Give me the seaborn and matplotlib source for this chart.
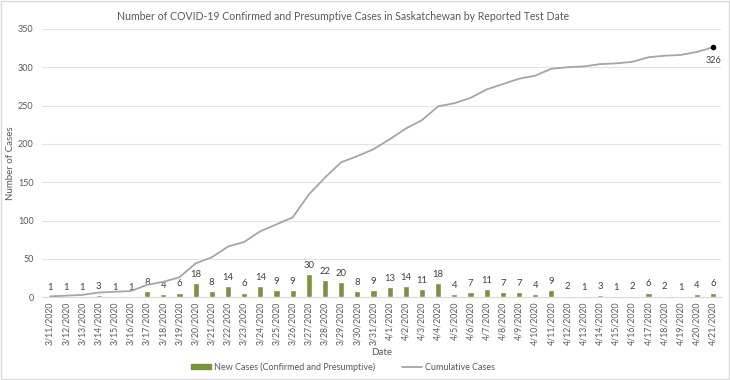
#Saskatchewan COVID-19 cases by reported test date
import numpy as np
import pandas as pd
import matplotlib
matplotlib.use('Agg')
import matplotlib.pyplot as plt
from matplotlib.patches import Patch
from matplotlib.lines import Line2D
import seaborn as sns

#Data
dates = ['3/11/2020', '3/12/2020', '3/13/2020', '3/14/2020', '3/15/2020', '3/16/2020',
         '3/17/2020', '3/18/2020', '3/19/2020', '3/20/2020', '3/21/2020', '3/22/2020',
         '3/23/2020', '3/24/2020', '3/25/2020', '3/26/2020', '3/27/2020', '3/28/2020',
         '3/29/2020', '3/30/2020', '3/31/2020', '4/1/2020', '4/2/2020', '4/3/2020',
         '4/4/2020', '4/5/2020', '4/6/2020', '4/7/2020', '4/8/2020', '4/9/2020',
         '4/10/2020', '4/11/2020', '4/12/2020', '4/13/2020', '4/14/2020', '4/15/2020',
         '4/16/2020', '4/17/2020', '4/18/2020', '4/19/2020', '4/20/2020', '4/21/2020']
new_cases = [1, 1, 1, 3, 1, 1, 8, 4, 6, 18, 8, 14, 6, 14, 9, 9, 30, 22, 20, 8, 9,
             13, 14, 11, 18, 4, 7, 11, 7, 7, 4, 9, 2, 1, 3, 1, 2, 6, 2, 1, 4, 6]
cumulative = [1, 2, 3, 6, 7, 8, 16, 20, 26, 44, 52, 66, 72, 86, 95, 104, 134, 156,
              176, 184, 193, 206, 220, 231, 249, 253, 260, 271, 278, 285, 289, 298,
              300, 301, 304, 305, 307, 313, 315, 316, 320, 326]

df = pd.DataFrame({'Date': dates, 'New': new_cases, 'Cumulative': cumulative})
df['pos'] = np.arange(len(df))

bar_col = '#77933C'
line_col = '#A5A5A5'
text_col = '#595959'

sns.set_style('white')
plt.rcParams['font.family'] = ['Lato', 'DejaVu Sans']

fig = plt.figure(figsize=(7.3, 3.8), dpi=100)
ax = fig.add_axes([0.0575, 0.218, 0.9305, 0.706])

sns.barplot(data=df, x='Date', y='New', color=bar_col, width=0.38,
            saturation=1, ax=ax, zorder=3)
sns.lineplot(data=df, x='pos', y='Cumulative', color=line_col, linewidth=1.3,
             ax=ax, zorder=4)

#bar labels
for p, v in zip(ax.patches, new_cases):
    ax.annotate(str(v), (p.get_x() + p.get_width() / 2, p.get_height()),
                xytext=(0, 3), textcoords='offset points', ha='center', va='bottom',
                fontsize=6.8, color='#404040')

#end point of cumulative line
ax.plot(df['pos'].iloc[-1], cumulative[-1], 'o', color='black', markersize=3, zorder=5)
ax.annotate(str(cumulative[-1]), (df['pos'].iloc[-1], cumulative[-1]),
            xytext=(0, -6), textcoords='offset points', ha='center', va='top',
            fontsize=6.5, color='#404040')

ax.set_xlim(-0.5, len(df) - 0.5)
ax.set_ylim(0, 350)
ax.set_yticks(range(0, 351, 50))
ax.yaxis.grid(True, color='#E3E3E3', linewidth=0.8, zorder=0)
for s in ['top', 'right', 'left']:
    ax.spines[s].set_visible(False)
ax.spines['bottom'].set_color('#D9D9D9')
ax.tick_params(axis='x', rotation=90, labelsize=6.3, colors=text_col, length=0, pad=3)
ax.tick_params(axis='y', labelsize=6.5, colors=text_col, length=0, pad=6)
ax.set_xticks(np.arange(len(df) + 1) - 0.5, minor=True)
ax.tick_params(axis='x', which='minor', length=4, color='#D9D9D9')
ax.set_xlabel('Date', fontsize=7, color=text_col, labelpad=2)
ax.set_ylabel('Number of Cases', fontsize=7, color=text_col, labelpad=2)

fig.suptitle('Number of COVID-19 Confirmed and Presumptive Cases in Saskatchewan by Reported Test Date',
             x=0.47, y=0.97, fontsize=7.6, color=text_col)

handles = [Patch(color=bar_col, label='New Cases (Confirmed and Presumptive)'),
           Line2D([0], [0], color=line_col, linewidth=1.3, label='Cumulative Cases')]
fig.legend(handles=handles, loc='lower center', bbox_to_anchor=(0.47, 0.0), ncol=2,
           frameon=False, fontsize=6.5, handlelength=2.2, handleheight=0.5,
           columnspacing=3, labelcolor=text_col, handletextpad=0.3)

#chart border
fig.patches.append(plt.Rectangle((0.002, 0.003), 0.996, 0.994, transform=fig.transFigure,
                                 fill=False, edgecolor='#D9D9D9', linewidth=1))

fig.savefig('out.png', dpi=100)
